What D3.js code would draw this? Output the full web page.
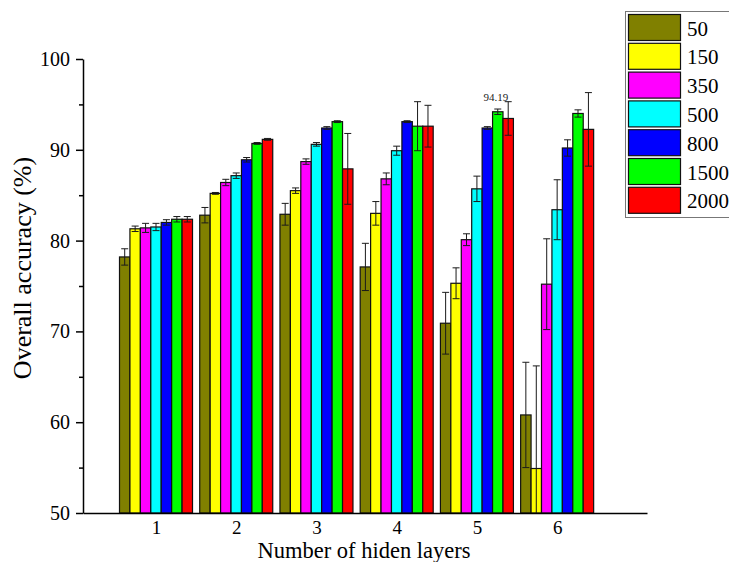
<!DOCTYPE html>
<html><head><meta charset="utf-8">
<script src="https://cdn.jsdelivr.net/npm/d3@7"></script>
<style>body{margin:0;background:#fff}svg{display:block}
svg text{font-family:"Liberation Serif","Times New Roman","DejaVu Serif","Noto Serif",serif}</style>
</head><body><svg id="c" width="729" height="562"></svg>
<script>
// ---- data ----
const groups = [1, 2, 3, 4, 5, 6];
const seriesNames = ["50", "150", "350", "500", "800", "1500", "2000"];
const seriesColors = ["#808000", "#FFFF00", "#FF00FF", "#00FFFF", "#0000FF", "#00FF00", "#FF0000"];
const v50   = [78.2, 82.8, 82.9, 77.1, 70.9, 60.8];
const v150  = [81.3, 85.2, 85.5, 83.0, 75.3, 54.9];
const v350  = [81.4, 86.4, 88.7, 86.8, 80.1, 75.2];
const v500  = [81.5, 87.15, 90.6, 89.9, 85.7, 83.4];
const v800  = [82.0, 88.9, 92.4, 93.1, 92.4, 90.2];
const v1500 = [82.35, 90.7, 93.1, 92.6, 94.19, 94.0];
const v2000 = [82.35, 91.15, 87.9, 92.6, 93.45, 92.25];
const e50   = [0.9, 0.85, 1.2, 2.6, 3.4, 5.8];
const e150  = [0.3, 0.1, 0.3, 1.3, 1.7, 11.3];
const e350  = [0.5, 0.35, 0.3, 0.65, 0.65, 5.0];
const e500  = [0.4, 0.3, 0.2, 0.5, 1.4, 3.3];
const e800  = [0.3, 0.25, 0.15, 0.1, 0.15, 0.9];
const e1500 = [0.3, 0.1, 0.1, 2.7, 0.3, 0.4];
const e2000 = [0.3, 0.1, 3.9, 2.3, 1.85, 4.05];
const yMajorTicks = [50, 60, 70, 80, 90, 100];
const yMinorTicks = [55, 65, 75, 85, 95];
const annotGroup = 5, annotSeries = "1500", annotText = "94.19";
const xTitle = "Number of hiden layers";
const yTitle = "Overall accuracy (%)";

const values = [v50, v150, v350, v500, v800, v1500, v2000];
const errors = [e50, e150, e350, e500, e800, e1500, e2000];

// ---- layout ----
const svg = d3.select("#c");
const x = d3.scaleLinear().domain([0.09, 7.12]).range([83, 647]);
const y = d3.scaleLinear().domain([50, 100]).range([513, 59]);
const barW = 0.13; // in group units
const bx = (g, s) => x(g + (s - 3) * barW - barW / 2);
const bwPx = x(barW) - x(0);

const data = [];
seriesNames.forEach((n, s) => groups.forEach((g, i) => data.push({ g, s, n, v: values[s][i], e: errors[s][i] })));

svg.append("defs").append("clipPath").attr("id", "plot")
  .append("rect").attr("x", 83).attr("y", 59).attr("width", 564).attr("height", 454);

// bars
svg.append("g").selectAll("rect").data(data).join("rect")
  .attr("x", d => bx(d.g, d.s)).attr("width", bwPx)
  .attr("y", d => y(d.v)).attr("height", d => y(50) - y(d.v))
  .attr("fill", d => seriesColors[d.s]).attr("stroke", "#111").attr("stroke-width", 1.2);

// error bars
const eg = svg.append("g").attr("clip-path", "url(#plot)").attr("stroke", "#1a1a1a").attr("stroke-width", 1);
data.forEach(d => {
  const cx = bx(d.g, d.s) + bwPx / 2;
  eg.append("line").attr("x1", cx).attr("x2", cx).attr("y1", y(d.v + d.e)).attr("y2", y(d.v - d.e));
  [d.v + d.e, d.v - d.e].forEach(t => eg.append("line")
    .attr("x1", cx - 3.5).attr("x2", cx + 3.5).attr("y1", y(t)).attr("y2", y(t)));
});

// annotation
const aS = seriesNames.indexOf(annotSeries), aI = groups.indexOf(annotGroup);
svg.append("text").attr("x", bx(annotGroup, aS) + bwPx / 2 - 2)
  .attr("y", y(values[aS][aI] + errors[aS][aI]) - 8)
  .attr("text-anchor", "middle").attr("font-size", 11).attr("fill", "#222")
  .text(annotText);

// axes
const yAxis = svg.append("g").attr("transform", "translate(83,0)")
  .call(d3.axisLeft(y).tickValues(yMajorTicks).tickSize(7).tickSizeOuter(0).tickPadding(6));
const yMinor = svg.append("g").attr("transform", "translate(83,0)")
  .call(d3.axisLeft(y).tickValues(yMinorTicks).tickSize(4).tickFormat(""));
yMinor.select(".domain").remove();
const xAxis = svg.append("g").attr("transform", "translate(0,513)")
  .call(d3.axisBottom(x).tickValues(groups).tickSize(0).tickSizeOuter(0).tickPadding(8).tickFormat(d3.format("d")));
[yAxis, yMinor, xAxis].forEach(a => {
  a.attr("font-family", null);
  a.selectAll("path,line").attr("stroke", "#000").attr("stroke-width", 1.5);
  a.selectAll("text").attr("font-size", 20).attr("fill", "#000");
});
xAxis.selectAll("text").attr("font-size", 19);

// titles
svg.append("text").attr("x", 364).attr("y", 558).attr("text-anchor", "middle")
  .attr("font-size", 22.5).text(xTitle);
svg.append("text").attr("transform", "translate(31,268) rotate(-90)").attr("text-anchor", "middle")
  .attr("font-size", 26).text(yTitle);

// legend
const lg = svg.append("g");
lg.append("rect").attr("x", 625.5).attr("y", 11.5).attr("width", 120).attr("height", 206)
  .attr("fill", "#fff").attr("stroke", "#777").attr("stroke-width", 1);
seriesNames.forEach((n, s) => {
  const ty = 14.5 + s * 28.8;
  lg.append("rect").attr("x", 628.5).attr("y", ty).attr("width", 52).attr("height", 26)
    .attr("fill", seriesColors[s]).attr("stroke", "#111").attr("stroke-width", 1.2);
  lg.append("text").attr("x", 687).attr("y", ty + 21)
    .attr("font-size", 21).text(n);
});
</script></body></html>
